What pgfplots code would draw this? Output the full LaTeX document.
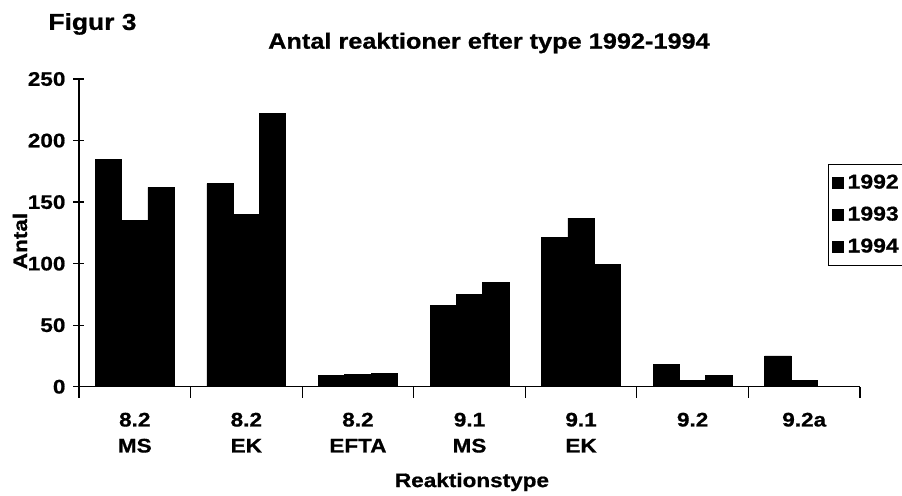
\documentclass[border=0pt]{standalone}
\usepackage{fontspec}
\setmainfont{Liberation Sans}[FakeStretch=1.15, BoldFeatures={FakeBold=0.8}]
\usepackage{pgfplots}
\pgfplotsset{compat=1.18}
\begin{document}
\begin{tikzpicture}
\useasboundingbox (0,0) rectangle (451pt,247.5pt);
\begin{axis}[
  at={(39.5pt,54.15pt)}, anchor=south west,
  scale only axis, width=390.5pt, height=153.85pt,
  xmin=-0.5, xmax=6.5, ymin=0, ymax=250,
  axis x line=bottom, axis y line=left,
  axis line style={-, line width=0.6pt, black},
  ytick={0,50,...,250},
  xtick={-0.5,0.5,...,6.5}, xticklabels={},
  extra x ticks={0,1,2,3,4,5,6},
  extra x tick labels={{8.2\\MS},{8.2\\EK},{8.2\\EFTA},{9.1\\MS},{9.1\\EK},{9.2},{9.2a}},
  extra x tick style={tick style={draw=none}},
  tick align=center, major tick length=5.5pt,
  tick style={black, line width=0.6pt},
  xticklabel style={align=center, font=\bfseries\fontsize{9.8}{13}\selectfont, yshift=-4pt},
  yticklabel style={font=\bfseries\fontsize{9.8}{11}\selectfont, xshift=-0.5pt},
  /pgf/number format/assume math mode=true,
  ybar=0pt, bar width=13.15pt,
  legend cell align=left,
  legend style={at={(rel axis cs:0.959,0.7237)}, anchor=north west, draw=black,
    line width=0.6pt, fill=white,
    font=\bfseries\fontsize{10}{11}\selectfont, inner xsep=1.5pt, inner ysep=3pt,
    row sep=3.5pt},
  leg/.style={fill=black, draw=black,
    legend image code/.code={\fill[black] (0pt,-2.7pt) rectangle (5.4pt,2.7pt);}},
]
\addplot[leg] coordinates {(0,185) (1,165) (2,9) (3,66) (4,121) (5,18) (6,25)};
\addplot[leg] coordinates {(0,135) (1,140) (2,10) (3,75) (4,137) (5,5) (6,5)};
\addplot[leg] coordinates {(0,162) (1,222) (2,11) (3,85) (4,99) (5,9) (6,0)};
\legend{1992,1993,1994}
\end{axis}
\node[font=\bfseries\fontsize{11.5}{13}\selectfont, anchor=west, inner sep=0pt] at (24pt,235.5pt) {Figur 3};
\node[font=\bfseries\fontsize{11}{12}\selectfont] at (244.5pt,226pt) {Antal reaktioner efter type 1992-1994};
\node[rotate=90, font=\bfseries\fontsize{9.8}{11}\selectfont] at (10pt,127pt) {Antal};
\node[font=\bfseries\fontsize{9.8}{11}\selectfont] at (236pt,6.5pt) {Reaktionstype};
\end{tikzpicture}
\end{document}
